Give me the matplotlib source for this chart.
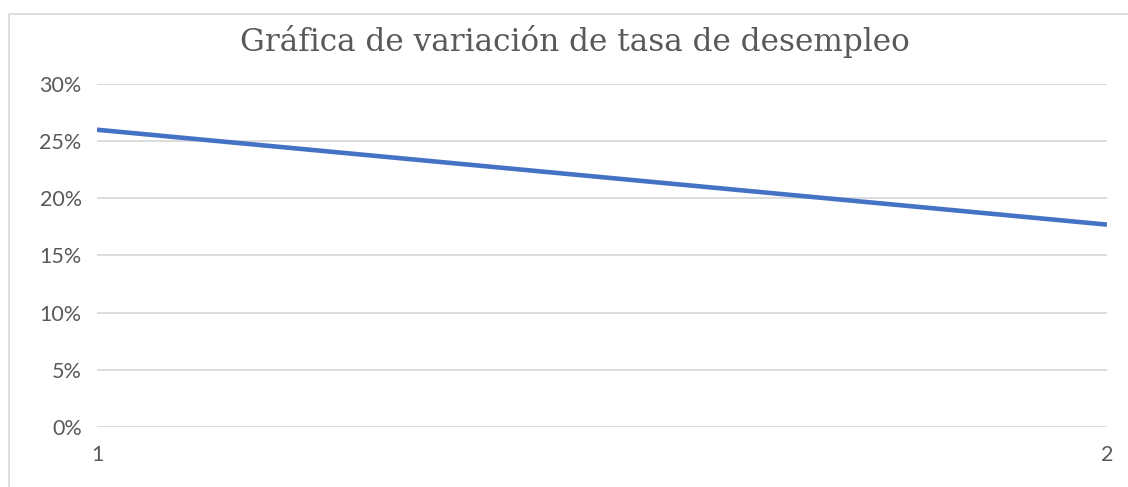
import matplotlib
matplotlib.use('Agg')
import matplotlib.pyplot as plt
from matplotlib.lines import Line2D
from matplotlib.ticker import PercentFormatter

# data
periods = [1, 2]
unemployment_rate = [0.26, 0.177]
y_ticks = [0, 0.05, 0.10, 0.15, 0.20, 0.25, 0.30]

W, H = 1128, 487
fig = plt.figure(figsize=(W / 100, H / 100), dpi=100)
fig.patch.set_facecolor('white')

ax = fig.add_axes([97 / W, 1 - 427 / H, (1107 - 97) / W, (427 - 84) / H])
ax.plot(periods, unemployment_rate, color='#4472C4', linewidth=3.3,
        solid_capstyle='butt', zorder=3)

ax.set_xlim(1, 2)
ax.set_ylim(0, 0.30)
ax.set_yticks(y_ticks)
ax.set_xticks(periods)
ax.yaxis.set_major_formatter(PercentFormatter(1.0, decimals=0))

ax.grid(axis='y', color='#d9d9d9', linewidth=1.3, zorder=0)
for s in ax.spines.values():
    s.set_visible(False)
ax.tick_params(length=0, labelsize=15.5, labelcolor='#595959')
ax.tick_params(axis='y', pad=11)
ax.tick_params(axis='x', pad=13)
for lab in ax.get_xticklabels() + ax.get_yticklabels():
    lab.set_fontfamily('Lato')

# chart area border (left and top visible)
fig.add_artist(Line2D([8.5 / W, 8.5 / W, 1], [0, 1 - 14 / H, 1 - 14 / H],
                      transform=fig.transFigure, color='#d9d9d9', linewidth=1.2))

fig.text(575 / W, 1 - 41 / H, 'Gráfica de variación de tasa de desempleo',
         ha='center', va='center', fontsize=22.4, color='#595959',
         fontfamily='DejaVu Serif')

fig.savefig('out.png', dpi=100)
